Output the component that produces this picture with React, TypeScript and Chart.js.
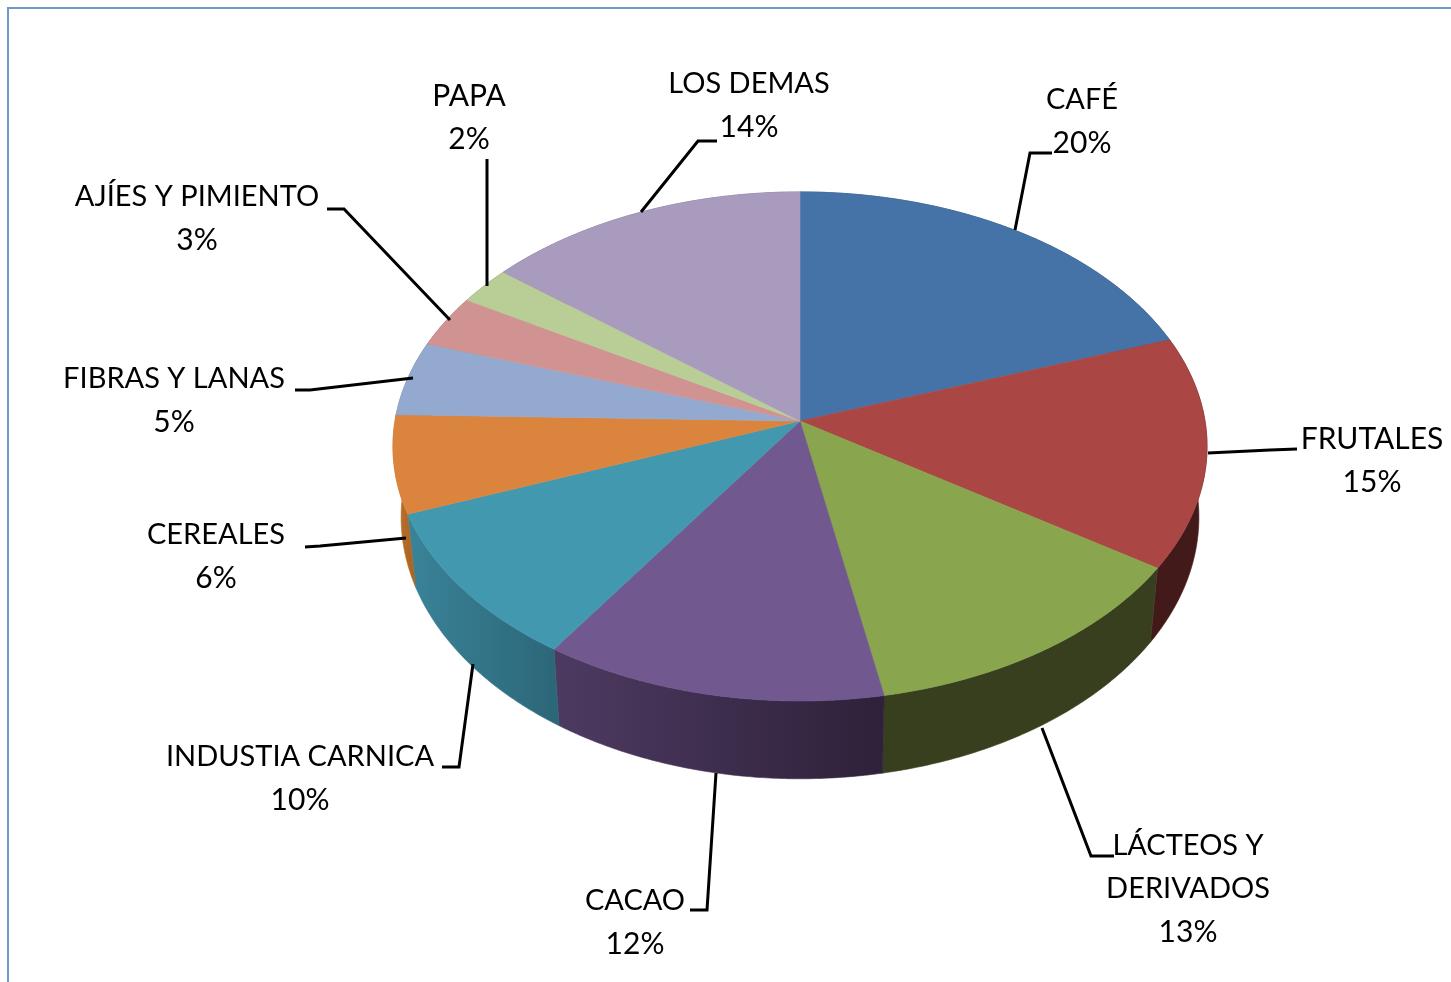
import React, { useEffect, useRef } from "react";
import { Chart, registerables } from "chart.js";

Chart.register(...registerables);

// Data
const categories = ["CAFÉ", "FRUTALES", "LÁCTEOS Y DERIVADOS", "CACAO", "INDUSTIA CARNICA", "CEREALES", "FIBRAS Y LANAS", "AJÍES Y PIMIENTO", "PAPA", "LOS DEMAS"];
const shares = [19.6, 14.7, 12.7, 12.4, 9.8, 6.2, 4.7, 3.3, 2.4, 14.2];
const topColors = ["#4572A7", "#AA4643", "#89A54E", "#71588F", "#4198AF", "#DB843D", "#93A9CF", "#D19392", "#B9CD96", "#A99BBD"];
const wallLeft = ["#2b4566", "#431a1a", "#373f1e", "#4d3a62", "#3a8398", "#bd7230", "#5d6f8e", "#8a5f5e", "#7a8a62", "#6f6580"];
const wallRight = ["#2b4566", "#431a1a", "#373f1e", "#2e2139", "#2c6678", "#a8641f", "#5d6f8e", "#8a5f5e", "#7a8a62", "#6f6580"];

// Label layout: category lines, centre x, first-line y, name font size
const labelLines = [["CAFÉ"], ["FRUTALES"], ["LÁCTEOS Y", "DERIVADOS"], ["CACAO"], ["INDUSTIA CARNICA"], ["CEREALES"], ["FIBRAS Y LANAS"], ["AJÍES Y PIMIENTO"], ["PAPA"], ["LOS DEMAS"]];
const labelX = [1082, 1372, 1188, 635, 300, 216, 174, 197, 469, 749];
const labelY = [100, 439, 846, 901, 757, 535, 379, 197, 96, 84];
const nameSize = [29, 30, 29, 29, 29, 29, 29, 29, 30, 29];
const leaders = [
  [[1052, 153], [1030, 153], [1015, 230]],
  [[1297, 449], [1270, 450], [1208, 453]],
  [[1114, 856], [1091, 856], [1042, 728]],
  [[690, 910], [707, 910], [716, 773]],
  [[442, 767], [459, 767], [473, 664]],
  [[305, 547], [320, 546], [406, 538]],
  [[295, 390], [310, 390], [413, 378]],
  [[327, 209], [344, 209], [450, 320]],
  [[487, 159], [487, 286]],
  [[717, 141], [698, 141], [641, 212]],
];

const ASPECT = 252 / 405;
const PERSPECTIVE = 0.1;
const DEPTH = 70;
const LOWER_SCALE = 0.98;
const FAMILY = 'Lato, "Open Sans", sans-serif';

const pie3d = {
  id: "pie3d",
  beforeDatasetsDraw(chart: any) {
    const ctx = chart.ctx;
    const arcs = chart.getDatasetMeta(0).data;
    const rim = (arc: any, a: number, lower: boolean) => {
      const u = Math.cos(a), v = Math.sin(a);
      const d = 1 - PERSPECTIVE * v;
      const R = arc.outerRadius;
      const x = arc.x + (R * u * (lower ? LOWER_SCALE : 1)) / d;
      const y = arc.y + (R * ASPECT * v + (lower ? DEPTH : 0)) / d;
      return [x, y];
    };
    const sample = (arc: any, lower: boolean) => {
      const pts: number[][] = [];
      const n = Math.max(8, Math.ceil((arc.endAngle - arc.startAngle) * 120));
      for (let i = 0; i <= n; i++) pts.push(rim(arc, arc.startAngle + ((arc.endAngle - arc.startAngle) * i) / n, lower));
      return pts;
    };
    // side walls
    arcs.forEach((arc: any, i: number) => {
      const upper = sample(arc, false);
      const lower = sample(arc, true);
      const xs = upper.concat(lower).map((p) => p[0]);
      const g = ctx.createLinearGradient(Math.min(...xs), 0, Math.max(...xs), 0);
      g.addColorStop(0, wallLeft[i]);
      g.addColorStop(1, wallRight[i]);
      ctx.beginPath();
      upper.forEach((p, k) => (k ? ctx.lineTo(p[0], p[1]) : ctx.moveTo(p[0], p[1])));
      lower.reverse().forEach((p) => ctx.lineTo(p[0], p[1]));
      ctx.closePath();
      ctx.fillStyle = g;
      ctx.strokeStyle = g;
      ctx.lineWidth = 0.6;
      ctx.fill();
      ctx.stroke();
    });
    // top faces
    arcs.forEach((arc: any, i: number) => {
      ctx.beginPath();
      ctx.moveTo(arc.x, arc.y);
      sample(arc, false).forEach((p) => ctx.lineTo(p[0], p[1]));
      ctx.closePath();
      ctx.fillStyle = topColors[i];
      ctx.strokeStyle = topColors[i];
      ctx.lineWidth = 0.6;
      ctx.fill();
      ctx.stroke();
    });
    return false;
  },
  afterDraw(chart: any) {
    const ctx = chart.ctx;
    const total = shares.reduce((a, b) => a + b, 0);
    ctx.save();
    ctx.strokeStyle = "#000";
    ctx.lineWidth = 3;
    ctx.lineJoin = "miter";
    leaders.forEach((line) => {
      ctx.beginPath();
      line.forEach((p, k) => (k ? ctx.lineTo(p[0], p[1]) : ctx.moveTo(p[0], p[1])));
      ctx.stroke();
    });
    ctx.fillStyle = "#000";
    ctx.textAlign = "center";
    ctx.textBaseline = "middle";
    labelLines.forEach((lines, i) => {
      ctx.font = `${nameSize[i]}px ${FAMILY}`;
      lines.forEach((t, k) => ctx.fillText(t, labelX[i], labelY[i] + k * 43));
      ctx.font = `30px ${FAMILY}`;
      ctx.fillText(Math.round((shares[i] / total) * 100) + "%", labelX[i], labelY[i] + lines.length * 43);
    });
    ctx.restore();
  },
};

export default function App() {
  const ref = useRef<HTMLCanvasElement>(null);
  useEffect(() => {
    const chart = new Chart(ref.current!, {
      type: "pie",
      data: {
        labels: categories,
        datasets: [{ data: shares, backgroundColor: topColors, borderWidth: 0 }],
      },
      options: {
        responsive: false,
        animation: false,
        layout: { padding: { left: 395, right: 246, top: 16, bottom: 156 } },
        plugins: { legend: { display: false }, tooltip: { enabled: false } },
      },
      plugins: [pie3d],
    } as any);
    return () => chart.destroy();
  }, []);
  return (
    <div style={{ position: "fixed", left: 0, top: 0, width: 1451, height: 982, overflow: "hidden", background: "#fff" }}>
      <div style={{ position: "absolute", left: 7, top: 7, width: 1500, height: 1100, border: "2px solid #6F97C8", boxSizing: "border-box" }} />
      <canvas ref={ref} width={1451} height={982} style={{ position: "absolute", left: 0, top: 0, display: "block" }} />
    </div>
  );
}
